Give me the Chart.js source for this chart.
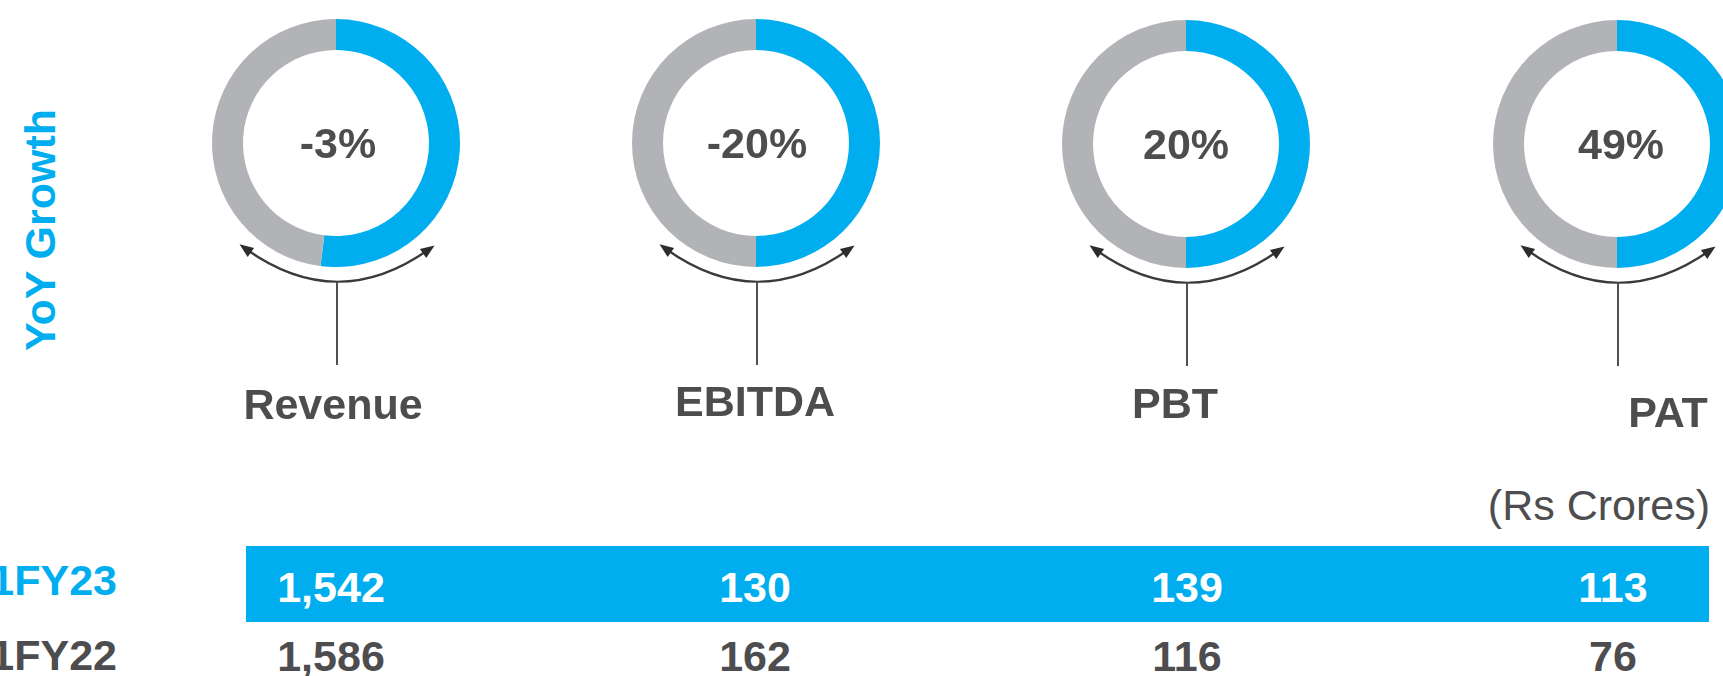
<!DOCTYPE html>
<html>
<head>
<meta charset="utf-8">
<script src="https://cdn.jsdelivr.net/npm/chart.js@4.4.1/dist/chart.umd.min.js"></script>
<style>
html,body{margin:0;padding:0;background:#fff;}
#stage{position:relative;width:1723px;height:676px;overflow:hidden;background:#fff;font-family:"Liberation Sans",Arial,sans-serif;}
.t{position:absolute;transform:translate(-50%,-50%);white-space:nowrap;line-height:1;font-weight:bold;font-size:43px;color:#4D4D4F;}
canvas{position:absolute;top:0;}
</style>
</head>
<body>
<div id="stage"></div>
<script>
// ---------- data ----------
const metrics = ['Revenue', 'EBITDA', 'PBT', 'PAT'];
const growthLabels = ['-3%', '-20%', '20%', '49%'];
const ringBlue = [52, 50, 50, 50];
const ringGrey = [48, 50, 50, 50];
const periods = ['Q1FY23', 'Q1FY22'];
const currentValues = [1542, 130, 139, 113];
const priorValues = [1586, 162, 116, 76];
const unitLabel = '(Rs Crores)';
const sideTitle = 'YoY Growth';

// ---------- layout / style ----------
const BLUE = '#00AEEF', GREY = '#B1B3B6', DARK = '#4D4D4F';
const donutX = [336, 756, 1186, 1617];
const donutY = [143, 143, 144, 144];
const centerTextX = [338, 757, 1186, 1621];
const labelX = [333, 755, 1175, 1668];
const labelY = [404, 401, 403, 412];
const colX = [331, 755, 1187, 1613];
const R = 124, CW = 420, CH = 400;

const stage = document.getElementById('stage');
function addText(txt, x, y, extra) {
  const d = document.createElement('div');
  d.className = 't';
  d.textContent = txt;
  d.style.left = x + 'px';
  d.style.top = y + 'px';
  if (extra) Object.assign(d.style, extra);
  stage.appendChild(d);
  return d;
}

const arrowPlugin = {
  id: 'arrows',
  afterDraw(chart) {
    const ctx = chart.ctx, a = chart.chartArea;
    const x = (a.left + a.right) / 2, y = (a.top + a.bottom) / 2;
    ctx.save();
    const p0 = {x: x - 90, y: y + 106}, c = {x: x + 1, y: y + 171}, p2 = {x: x + 92, y: y + 107};
    ctx.strokeStyle = '#3a3a3c';
    ctx.lineWidth = 2.2;
    ctx.beginPath();
    ctx.moveTo(p0.x, p0.y);
    ctx.quadraticCurveTo(c.x, c.y, p2.x, p2.y);
    ctx.stroke();
    ctx.fillStyle = '#2c2c2e';
    function head(p) {
      let dx = p.x - c.x, dy = p.y - c.y;
      const L = Math.hypot(dx, dy); dx /= L; dy /= L;
      const tip = {x: p.x + dx * 8, y: p.y + dy * 8};
      const base = {x: p.x - dx * 6, y: p.y - dy * 6};
      const px = -dy, py = dx;
      ctx.beginPath();
      ctx.moveTo(tip.x, tip.y);
      ctx.lineTo(base.x + px * 5.5, base.y + py * 5.5);
      ctx.lineTo(base.x - px * 5.5, base.y - py * 5.5);
      ctx.closePath();
      ctx.fill();
    }
    head(p0); head(p2);
    ctx.strokeStyle = '#505052';
    ctx.lineWidth = 2;
    ctx.beginPath();
    ctx.moveTo(x + 1, y + 139);
    ctx.lineTo(x + 1, y + 222);
    ctx.stroke();
    ctx.restore();
  }
};

metrics.forEach((m, i) => {
  const cv = document.createElement('canvas');
  cv.width = CW; cv.height = CH;
  cv.style.left = (donutX[i] - CW / 2) + 'px';
  cv.style.width = CW + 'px'; cv.style.height = CH + 'px';
  stage.appendChild(cv);
  const side = (CW - 2 * R) / 2;
  new Chart(cv, {
    type: 'doughnut',
    data: {
      labels: ['Growth', 'Base'],
      datasets: [{
        data: [ringBlue[i], ringGrey[i]],
        backgroundColor: [BLUE, GREY],
        borderWidth: 0
      }]
    },
    options: {
      responsive: false,
      devicePixelRatio: 1,
      animation: false,
      cutout: '75%',
      radius: R,
      layout: {padding: {left: side, right: side, top: donutY[i] - R, bottom: CH - donutY[i] - R}},
      plugins: {legend: {display: false}, tooltip: {enabled: false}}
    },
    plugins: [arrowPlugin]
  });
  addText(growthLabels[i], centerTextX[i], donutY[i]);
  addText(m, labelX[i], labelY[i]);
});

// side title
addText(sideTitle, 40, 230, {color: BLUE, transform: 'translate(-50%,-50%) rotate(-90deg)'});

// unit label
const u = addText(unitLabel, 0, 505, {fontWeight: 'normal', left: 'auto', right: (1723 - 1710) + 'px', transform: 'translateY(-50%)'});

// table band
const band = document.createElement('div');
Object.assign(band.style, {position: 'absolute', left: '246px', top: '546px', width: (1709 - 246) + 'px', height: '76px', background: BLUE});
stage.appendChild(band);

const fmt = v => v.toLocaleString('en-US');
currentValues.forEach((v, i) => addText(fmt(v), colX[i], 587, {color: '#ffffff'}));
priorValues.forEach((v, i) => addText(fmt(v), colX[i], 656));

addText(periods[0], 0, 580, {color: BLUE, left: 'auto', right: (1723 - 117) + 'px', transform: 'translateY(-50%)'});
addText(periods[1], 0, 655, {color: DARK, left: 'auto', right: (1723 - 117) + 'px', transform: 'translateY(-50%)'});
</script>
</body>
</html>
